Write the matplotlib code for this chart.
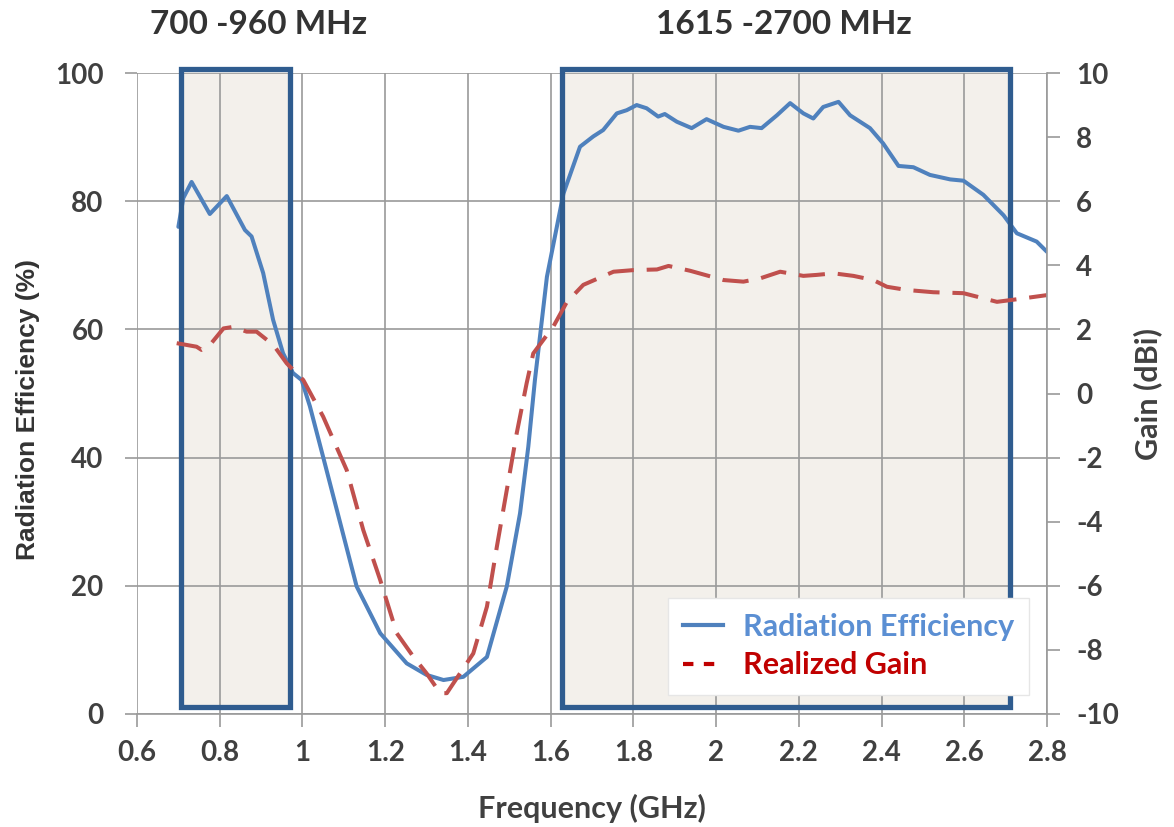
import matplotlib
matplotlib.use("Agg")
import matplotlib.pyplot as plt
from matplotlib.patches import Rectangle
from matplotlib.lines import Line2D

plt.rcParams['font.family'] = ['Lato', 'DejaVu Sans']
plt.rcParams['axes.unicode_minus'] = False

# ---- data ----
freq_eff = [0.70, 0.712, 0.732, 0.776, 0.817, 0.861, 0.877, 0.905, 0.929, 0.953, 0.977, 0.998,
            1.018, 1.05, 1.131, 1.188, 1.252, 1.30, 1.341, 1.389, 1.446, 1.494, 1.526, 1.546,
            1.562, 1.591, 1.631, 1.671, 1.703, 1.727, 1.760, 1.784, 1.808, 1.832, 1.860, 1.876,
            1.905, 1.941, 1.977, 2.018, 2.054, 2.082, 2.110, 2.147, 2.179, 2.211, 2.235, 2.259,
            2.296, 2.324, 2.372, 2.404, 2.441, 2.477, 2.517, 2.566, 2.598, 2.646, 2.695, 2.727,
            2.775, 2.80]
efficiency = [76, 80.5, 83, 78, 80.8, 75.5, 74.5, 68.8, 61.5, 56.3, 53.2, 52.1,
              48, 40.1, 19.9, 12.6, 7.9, 6.1, 5.3, 5.8, 8.9, 19.9, 31.3, 41.7,
              52.1, 68.2, 81.2, 88.5, 90.1, 91.1, 93.7, 94.2, 95.0, 94.5, 93.2, 93.6,
              92.4, 91.4, 92.8, 91.6, 91.0, 91.6, 91.4, 93.4, 95.3, 93.7, 92.9, 94.7,
              95.5, 93.4, 91.4, 89.0, 85.5, 85.3, 84.1, 83.4, 83.2, 81.0, 77.8, 75.0,
              73.7, 72.1]

freq_gain = [0.696, 0.744, 0.756, 0.776, 0.809, 0.833, 0.865, 0.889, 0.930, 0.962, 1.002,
             1.05, 1.107, 1.147, 1.188, 1.228, 1.268, 1.300, 1.333, 1.349, 1.381, 1.413,
             1.446, 1.470, 1.494, 1.518, 1.542, 1.558, 1.607, 1.639, 1.679, 1.752, 1.80,
             1.857, 1.885, 1.937, 2.018, 2.066, 2.106, 2.155, 2.211, 2.243, 2.284, 2.332,
             2.380, 2.413, 2.461, 2.525, 2.598, 2.679, 2.727, 2.80]
gain = [1.57, 1.46, 1.36, 1.51, 2.03, 2.08, 1.93, 1.93, 1.51, 0.94, 0.42,
        -0.72, -2.39, -4.26, -5.82, -7.48, -8.21, -8.73, -9.35, -9.35, -8.73, -8.11,
        -6.65, -4.78, -3.01, -1.24, 0.32, 1.25, 2.10, 2.85, 3.39, 3.80, 3.85,
        3.87, 3.98, 3.83, 3.54, 3.49, 3.59, 3.80, 3.67, 3.70, 3.75, 3.67,
        3.54, 3.33, 3.23, 3.16, 3.13, 2.86, 2.94, 3.07]

x_ticks = [0.6, 0.8, 1.0, 1.2, 1.4, 1.6, 1.8, 2.0, 2.2, 2.4, 2.6, 2.8]
x_tick_labels = ['0.6', '0.8', '1', '1.2', '1.4', '1.6', '1.8', '2', '2.2', '2.4', '2.6', '2.8']
eff_ticks = [0, 20, 40, 60, 80, 100]
gain_ticks = [-10, -8, -6, -4, -2, 0, 2, 4, 6, 8, 10]

band_edges = [(0.706, 0.970), (1.628, 2.711)]
band_titles = ['700 -960 MHz', '1615 -2700 MHz']
band_title_x = [0.893, 2.164]

# ---- figure ----
fig = plt.figure(figsize=(11.74, 8.27), dpi=100)
fig.patch.set_facecolor('white')
ax = fig.add_axes([137 / 1174, 1 - 714 / 827, 910 / 1174, 641 / 827])
ax2 = ax.twinx()

grid_c = '#9a9a9a'
tick_c = '#404040'
box_c = '#2F5C8F'

ax.set_xlim(0.6, 2.8)
ax.set_ylim(0, 100)
ax2.set_ylim(-10, 10)

for sp in ['top', 'left']:
    ax.spines[sp].set_visible(False)
    ax2.spines[sp].set_visible(False)
ax.spines['right'].set_visible(False)
ax.spines['bottom'].set_color(grid_c)
ax.spines['bottom'].set_linewidth(1.2)
ax2.spines['bottom'].set_visible(False)
ax2.spines['right'].set_color(grid_c)
ax2.spines['right'].set_linewidth(1.2)

ax.set_axisbelow(True)
ax.grid(True, color=grid_c, linewidth=1.2)

ax.set_xticks(x_ticks)
ax.set_xticklabels(x_tick_labels)
ax.set_yticks(eff_ticks)
ax2.set_yticks(gain_ticks)

ax.tick_params(axis='x', direction='out', length=9, width=1.2, color=grid_c,
               labelsize=20, labelcolor=tick_c, pad=10)
ax.tick_params(axis='y', direction='out', length=9, width=1.2, color=grid_c,
               labelsize=20, labelcolor=tick_c, pad=15)
ax2.tick_params(axis='y', direction='out', length=9, width=1.2, color=grid_c,
                labelsize=20, labelcolor=tick_c, pad=12)
for lab in ax.get_xticklabels() + ax.get_yticklabels() + ax2.get_yticklabels():
    lab.set_fontweight('bold')

# band boxes
for (x0, x1), title, tx in zip(band_edges, band_titles, band_title_x):
    ax.add_patch(Rectangle((x0, 1.1), x1 - x0, 100.6 - 1.1, facecolor='#F3F0EB',
                           edgecolor='none', zorder=0.2, clip_on=False))
    ax.add_patch(Rectangle((x0, 1.1), x1 - x0, 100.6 - 1.1, facecolor='none',
                           edgecolor=box_c, linewidth=3.8, zorder=2.5, clip_on=False,
                           joinstyle='miter'))
    ax.text(tx, 1.075, title, transform=ax.get_xaxis_transform(),
            ha='center', va='center', fontsize=24, fontweight='bold', color='#333333')

# curves
ax.plot(freq_eff, efficiency, color='#4F81BD', linewidth=2.9, solid_joinstyle='round',
        solid_capstyle='round', zorder=2)
ax2.plot(freq_gain, gain, color='#C0504D', linewidth=2.9, dashes=(6.5, 3.2),
         dash_capstyle='butt', zorder=2)

ax.set_xlabel('Frequency (GHz)', fontsize=22, fontweight='bold', color=tick_c, labelpad=20)
ax.set_ylabel('Radiation Efficiency (%)', fontsize=19, fontweight='bold', color='#333333',
              family=['Liberation Sans', 'DejaVu Sans'])
ax.yaxis.set_label_coords(-0.107, 0.475)
ax2.set_ylabel('Gain (dBi)', fontsize=22, fontweight='bold', color=tick_c, labelpad=10)

handles = [Line2D([], [], color='#4F81BD', linewidth=3),
           Line2D([], [], color='#C00000', linewidth=3, dashes=(2.5, 2.5))]
leg = ax2.legend(handles, ['Radiation Efficiency', 'Realized Gain'],
                 loc='lower left', bbox_to_anchor=(0.5835, 0.03),
                 frameon=True, fancybox=False,
                 framealpha=1, edgecolor='#e6e6e6', handlelength=1.3,
                 handletextpad=0.65, borderpad=0.5, labelspacing=0.35,
                 borderaxespad=0.0,
                 labelcolor=['#5B8FD3', '#C00000'], prop={'weight': 'bold', 'size': 22})
leg.set_zorder(10)

fig.savefig('out.png', dpi=100, facecolor='white')
